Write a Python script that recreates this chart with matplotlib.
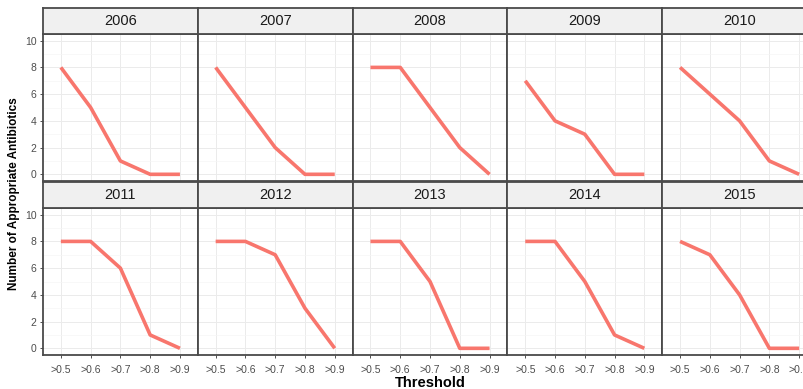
import matplotlib
matplotlib.use("Agg")
import matplotlib.pyplot as plt

plt.rcParams["font.family"] = ["Liberation Sans", "DejaVu Sans"]

years = ["2006", "2007", "2008", "2009", "2010",
         "2011", "2012", "2013", "2014", "2015"]
thresholds = [">0.5", ">0.6", ">0.7", ">0.8", ">0.9"]
counts_2006 = [8, 5, 1, 0, 0]
counts_2007 = [8, 5, 2, 0, 0]
counts_2008 = [8, 8, 5, 2, 0]
counts_2009 = [7, 4, 3, 0, 0]
counts_2010 = [8, 6, 4, 1, 0]
counts_2011 = [8, 8, 6, 1, 0]
counts_2012 = [8, 8, 7, 3, 0]
counts_2013 = [8, 8, 5, 0, 0]
counts_2014 = [8, 8, 5, 1, 0]
counts_2015 = [8, 7, 4, 0, 0]
series = [counts_2006, counts_2007, counts_2008, counts_2009, counts_2010,
          counts_2011, counts_2012, counts_2013, counts_2014, counts_2015]
y_ticks = [0, 2, 4, 6, 8, 10]

W, H = 804, 389
fig = plt.figure(figsize=(W / 100, H / 100), dpi=100)
fig.patch.set_facecolor("white")

line_color = "#F8766D"
border = "#4A4A4A"
grid_major = "#EBEBEB"
grid_minor = "#F5F5F5"

left0 = 43
pw = 154.8
strip_h = 26
rows = [(8, 34, 181), (182, 208, 355)]  # strip top, panel top, panel bottom

def fr(x, y_top, w, h):
    return [x / W, 1 - (y_top + h) / H, w / W, h / H]

for idx, (yr, vals) in enumerate(zip(years, series)):
    r, c = divmod(idx, 5)
    st, pt, pb = rows[r]
    x0 = left0 + c * pw
    ax = fig.add_axes(fr(x0, pt, pw, pb - pt))
    xs = list(range(len(thresholds)))
    ax.plot(xs, vals, color=line_color, lw=2.6, solid_capstyle="butt", zorder=3)
    ax.set_xlim(-0.6, len(thresholds) - 0.4)
    ax.set_ylim(-0.5, 10.5)
    ax.set_xticks(xs)
    ax.set_yticks(y_ticks)
    ax.set_yticks([1, 3, 5, 7, 9], minor=True)
    ax.grid(True, which="major", color=grid_major, lw=0.7, zorder=0)
    ax.grid(True, which="minor", axis="y", color=grid_minor, lw=0.5, zorder=0)
    ax.tick_params(which="minor", length=0)
    ax.set_axisbelow(True)
    for s in ax.spines.values():
        s.set_color(border)
        s.set_linewidth(1.3)
    ax.tick_params(axis="both", which="major", length=2.5, width=0.6,
                   color="#333333", labelsize=7.5, labelcolor="#4D4D4D", pad=2)
    if r == 1:
        ax.set_xticklabels(thresholds)
        ax.tick_params(axis="x", pad=5)
    else:
        ax.tick_params(axis="x", length=0, labelbottom=False)
    if c == 0:
        ax.set_yticklabels([str(v) for v in y_ticks])
    else:
        ax.tick_params(axis="y", length=0, labelleft=False)

    sax = fig.add_axes(fr(x0, st, pw, strip_h))
    sax.set_facecolor("#F0F0F0")
    sax.set_xticks([])
    sax.set_yticks([])
    for s in sax.spines.values():
        s.set_color(border)
        s.set_linewidth(1.3)
    sax.text(0.5, 0.5, yr, ha="center", va="center", fontsize=10.5,
             color="#1A1A1A", transform=sax.transAxes)

fig.text((left0 + 2.5 * pw) / W, 1 - 383 / H, "Threshold", ha="center",
         va="center", fontsize=10.5, fontweight="bold")
fig.text(14 / W, 1 - 194 / H, "Number of Appropriate Antibiotics", ha="center",
         va="center", rotation=90, fontsize=8.5, fontweight="bold")

fig.savefig("out.png", dpi=100, facecolor="white")
